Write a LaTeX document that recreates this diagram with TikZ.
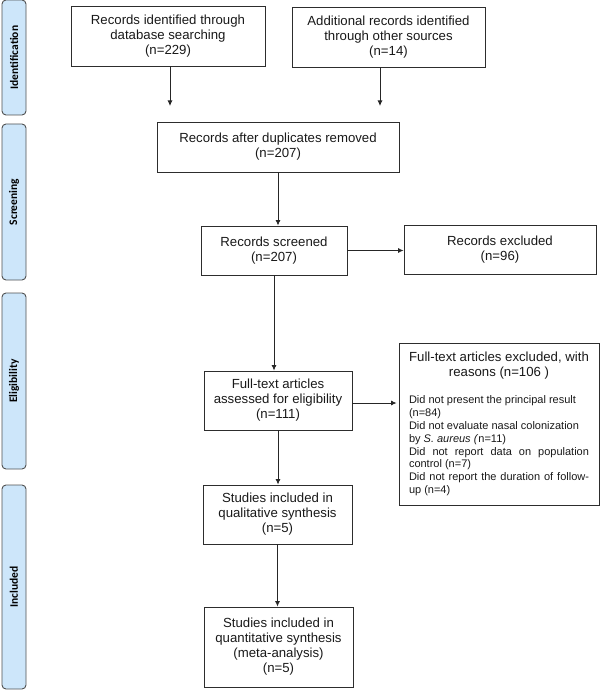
\documentclass[tikz,border=0pt]{standalone}
\usepackage{fontspec}
\setmainfont{Liberation Sans}
\newfontfamily\barfont{Carlito}
\usetikzlibrary{arrows.meta}
\definecolor{barfill}{RGB}{205,230,250}
\definecolor{barline}{RGB}{80,80,80}
\definecolor{boxline}{RGB}{45,45,45}
\begin{document}
\begin{tikzpicture}[x=1pt,y=-1pt,
  flowbox/.style={draw=boxline, line width=0.9pt, inner sep=0pt, align=center,
    font=\fontsize{13.2}{15}\selectfont, text=black!90},
  phasebar/.style={draw=barline, fill=barfill, rounded corners=4pt, line width=0.9pt,
    minimum width=24pt, inner sep=0pt},
  phaselabel/.style={rotate=90, inner sep=0pt, font=\barfont\bfseries\fontsize{11.5}{13}\selectfont},
  flowarrow/.style={draw=black!85, line width=0.8pt, -{Latex[length=5.5pt,width=5pt]}}
]
\useasboundingbox (0,0) rectangle (600,690);

% phase bars
\node[phasebar, minimum height=115pt] (pid) at (14,57.5) {};
\node[phaselabel] (lid) at (pid) {Identification};
\node[phasebar, minimum height=156pt] (psc) at (14,202) {};
\node[phaselabel] (lsc) at (psc) {Screening};
\node[phasebar, minimum height=176pt] (pel) at (14,381) {};
\node[phaselabel] (lel) at (pel) {Eligibility};
\node[phasebar, minimum height=204pt] (pin) at (14,587) {};
\node[phaselabel] (lin) at (pin) {Included};

% boxes
\node[flowbox, minimum width=194pt, minimum height=60pt] (b1) at (168,36)
  {Records identified through\\database searching\\(n=229)};
\node[flowbox, minimum width=193pt, minimum height=60pt] (b2) at (388.5,37)
  {Additional records identified\\through other sources\\(n=14)};
\node[flowbox, minimum width=242pt, minimum height=50pt] (b3) at (278,147)
  {Records after duplicates removed\\(n=207)};
\node[flowbox, minimum width=146pt, minimum height=49pt] (b4) at (274,250.5)
  {Records screened\\(n=207)};
\node[flowbox, minimum width=192pt, minimum height=49pt] (b5) at (500,249.5)
  {Records excluded\\(n=96)};
\node[flowbox, minimum width=148pt, minimum height=59pt] (b6) at (278,400.5)
  {Full-text articles\\assessed for eligibility\\(n=111)};
\node[flowbox, minimum width=200pt, minimum height=162pt] (b7) at (499,424)
  {\parbox{180pt}{\centering Full-text articles excluded, with\\reasons (n=106 )\par
   \vspace{14pt}
   \leftskip=0pt \rightskip=0pt \parfillskip=0pt plus 1fil
   \fontsize{11}{12.9}\selectfont
   Did not present the principal result\\
   (n=84)\\
   Did not evaluate nasal colonization\\
   by \textit{S. aureus (}n=11)\\
   Did not report data on population\linebreak
   control (n=7)\\
   Did not report the duration of follow-\linebreak
   up (n=4)\par}};
\node[flowbox, minimum width=149pt, minimum height=59pt] (b8) at (277.5,514.5)
  {Studies included in\\qualitative synthesis\\(n=5)};
\node[flowbox, minimum width=149pt, minimum height=80pt] (b9) at (278.5,647)
  {Studies included in\\quantitative synthesis\\(meta-analysis)\\(n=5)};

% connectors
\coordinate (e1) at (170,106);
\coordinate (e2) at (380,106);
\draw[flowarrow] (b1.south -| e1) -- (e1);
\draw[flowarrow] (b2.south -| e2) -- (e2);
\draw[flowarrow] (b3.south) -- (b3.south |- b4.north);
\draw[flowarrow] (b4.east) -- (b4.east -| b5.west);
\draw[flowarrow] (b4.south) -- (b4.south |- b6.north);
\draw[flowarrow] ([yshift=-2.5pt]b6.east) -- ([xshift=-2pt,yshift=-2.5pt]b6.east -| b7.west);
\draw[flowarrow] (b6.south) -- (b6.south |- b8.north);
\draw[flowarrow] (b8.south) -- (b8.south |- b9.north);
\end{tikzpicture}
\end{document}
